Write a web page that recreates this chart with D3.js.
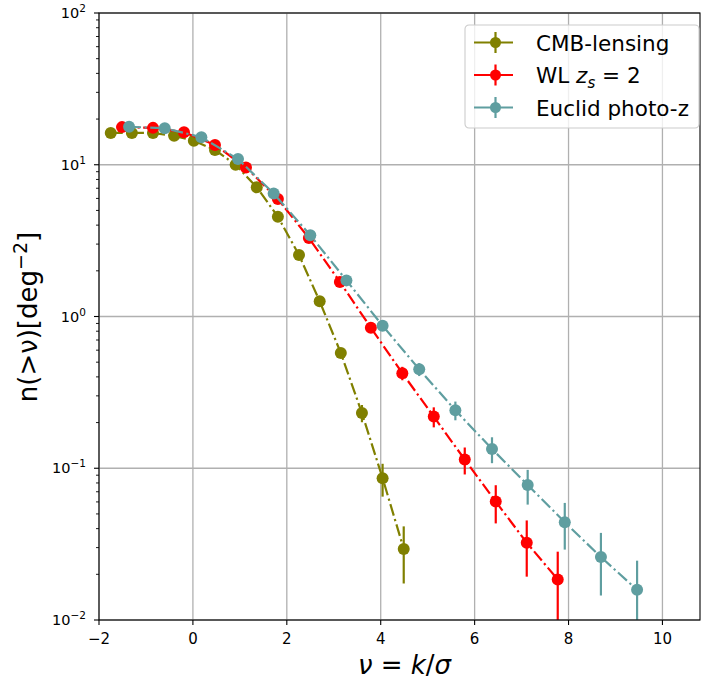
<!DOCTYPE html>
<html>
<head>
<meta charset="utf-8">
<script src="https://cdn.jsdelivr.net/npm/d3@7"></script>
<style>
  body { margin: 0; background: #fff; }
  text { font-family: "DejaVu Sans", sans-serif; }
</style>
</head>
<body>
<script>
// peak counts n(>nu) for three surveys
const nuCMB = [-1.75, -1.30, -0.85, -0.40, 0.02, 0.47, 0.91, 1.36, 1.81, 2.26, 2.70, 3.15, 3.60, 4.04, 4.49]
const nCMB = [16.2, 16.2, 16.2, 15.5, 14.4, 12.5, 10.0, 7.1, 4.55, 2.54, 1.26, 0.575, 0.231, 0.086, 0.0294]
const errCMB = [0.3, 0.3, 0.3, 0.3, 0.3, 0.3, 0.25, 0.2, 0.15, 0.1, 0.06, 0.035, 0.03, 0.021, 0.012]

const nuWL = [-1.51, -0.85, -0.19, 0.47, 1.13, 1.81, 2.47, 3.13, 3.79, 4.46, 5.13, 5.79, 6.45, 7.11, 7.77]
const nWL = [17.7, 17.5, 16.4, 13.5, 9.6, 5.94, 3.29, 1.69, 0.843, 0.423, 0.219, 0.114, 0.0603, 0.0323, 0.0185]
const errWL = [0.4, 0.4, 0.35, 0.3, 0.25, 0.2, 0.12, 0.07, 0.045, 0.043, 0.033, 0.023, 0.017, 0.013, 0.0097]

const nuEuclid = [-1.36, -0.60, 0.18, 0.96, 1.72, 2.50, 3.27, 4.04, 4.82, 5.59, 6.37, 7.13, 7.92, 8.69, 9.46]
const nEuclid = [17.8, 17.4, 15.2, 10.9, 6.47, 3.43, 1.73, 0.869, 0.449, 0.241, 0.134, 0.0776, 0.0441, 0.0260, 0.0158]
const errEuclid = [0.4, 0.4, 0.35, 0.3, 0.25, 0.15, 0.08, 0.05, 0.044, 0.034, 0.026, 0.02, 0.015, 0.0115, 0.0088]

const seriesNames = ['CMB-lensing', 'WL', 'Euclid photo-z']
const seriesColors = ['#808000', '#ff0000', '#5f9ea0']

const xTicks = [-2, 0, 2, 4, 6, 8, 10]
const yExponents = [-2, -1, 0, 1, 2]

const width = 701, height = 680
const margin = {top: 13, right: 1, bottom: 60, left: 99}

const svg = d3.select('body').append('svg')
  .attr('width', width)
  .attr('height', height)

const x = d3.scaleLinear().domain([-2, 10.8]).range([margin.left, width - margin.right])
const y = d3.scaleLog().domain([0.01, 100]).range([height - margin.bottom, margin.top])

const x0 = margin.left, x1 = width - margin.right
const y0 = height - margin.bottom, y1 = margin.top

svg.append('defs').append('clipPath').attr('id', 'plot')
  .append('rect').attr('x', x0).attr('y', y1).attr('width', x1 - x0).attr('height', y0 - y1)

// grid
const grid = svg.append('g').attr('stroke', '#b0b0b0').attr('stroke-width', 1.3)
xTicks.forEach(t => {
  grid.append('line').attr('x1', x(t)).attr('x2', x(t)).attr('y1', y0).attr('y2', y1)
})
yExponents.forEach(e => {
  grid.append('line').attr('x1', x0).attr('x2', x1).attr('y1', y(Math.pow(10, e))).attr('y2', y(Math.pow(10, e)))
})

// series
const all = [
  {nu: nuCMB, n: nCMB, err: errCMB},
  {nu: nuWL, n: nWL, err: errWL},
  {nu: nuEuclid, n: nEuclid, err: errEuclid}
]

const line = d3.line().x(d => x(d.nu)).y(d => y(d.n))
const plot = svg.append('g').attr('clip-path', 'url(#plot)')

all.forEach((s, i) => {
  let pts = s.nu.map((v, j) => ({nu: v, n: s.n[j], err: s.err[j]}))
  let g = plot.append('g')
  g.append('path')
    .attr('d', line(pts))
    .attr('fill', 'none')
    .attr('stroke', seriesColors[i])
    .attr('stroke-width', 2.2)
    .attr('stroke-dasharray', '12,3.5,2.2,3.5')
  g.selectAll('line.err').data(pts).enter().append('line')
    .attr('x1', d => x(d.nu)).attr('x2', d => x(d.nu))
    .attr('y1', d => y(d.n + d.err))
    .attr('y2', d => y(Math.max(d.n - d.err, 1e-4)))
    .attr('stroke', seriesColors[i])
    .attr('stroke-width', 2.2)
  g.selectAll('circle').data(pts).enter().append('circle')
    .attr('cx', d => x(d.nu)).attr('cy', d => y(d.n))
    .attr('r', 6)
    .attr('fill', seriesColors[i])
})

// axes frame
const axisColor = '#000'
svg.append('rect').attr('x', x0).attr('y', y1).attr('width', x1 - x0).attr('height', y0 - y1)
  .attr('fill', 'none').attr('stroke', axisColor).attr('stroke-width', 1.1)

// x ticks
const xt = svg.append('g')
xTicks.forEach(t => {
  xt.append('line').attr('x1', x(t)).attr('x2', x(t)).attr('y1', y0).attr('y2', y0 + 5)
    .attr('stroke', axisColor).attr('stroke-width', 1.1)
  xt.append('text').attr('x', x(t)).attr('y', 644)
    .attr('text-anchor', 'middle').attr('font-size', 15)
    .text(t < 0 ? '\u2212' + Math.abs(t) : t)
})

// y ticks (log)
const yt = svg.append('g')
yExponents.forEach(e => {
  let v = Math.pow(10, e)
  yt.append('line').attr('x1', x0 - 5).attr('x2', x0).attr('y1', y(v)).attr('y2', y(v))
    .attr('stroke', axisColor).attr('stroke-width', 1.1)
  let label = yt.append('text').attr('x', x0 - 13).attr('y', y(v) + 5)
    .attr('text-anchor', 'end').attr('font-size', 14.5)
  label.append('tspan').text('10')
  label.append('tspan').attr('dy', -6).attr('font-size', 10.5)
    .text(e < 0 ? '\u2212' + Math.abs(e) : e)
  if (e < 2) {
    for (let k = 2; k <= 9; k++) {
      yt.append('line').attr('x1', x0 - 3).attr('x2', x0).attr('y1', y(k * v)).attr('y2', y(k * v))
        .attr('stroke', axisColor).attr('stroke-width', 0.9)
    }
  }
})

// axis labels
const xl = svg.append('text').attr('x', (x0 + x1) / 2 + 5).attr('y', 674)
  .attr('text-anchor', 'middle').attr('font-size', 26)
xl.append('tspan').attr('font-style', 'italic').text('\u03bd')
xl.append('tspan').text(' = ')
xl.append('tspan').attr('font-style', 'italic').text('k')
xl.append('tspan').text('/')
xl.append('tspan').attr('font-style', 'italic').text('\u03c3')

const yl = svg.append('text')
  .attr('transform', 'translate(37,317) rotate(-90)')
  .attr('text-anchor', 'middle').attr('font-size', 26)
yl.append('tspan').text('n(>\u03bd)[deg')
yl.append('tspan').attr('dy', -10).attr('font-size', 19).text('\u22122')
yl.append('tspan').attr('dy', 10).text(']')

// legend
const lg = svg.append('g').attr('transform', 'translate(465,25)')
lg.append('rect').attr('width', 234).attr('height', 103).attr('rx', 4)
  .attr('fill', '#fff').attr('fill-opacity', 0.8)
  .attr('stroke', '#cccccc').attr('stroke-width', 1.1)

const rowY = [17.5, 50, 82.5]
seriesNames.forEach((name, i) => {
  let row = lg.append('g').attr('transform', `translate(0,${rowY[i]})`)
  row.append('line').attr('x1', 9).attr('x2', 48).attr('y1', 0).attr('y2', 0)
    .attr('stroke', seriesColors[i]).attr('stroke-width', 2.2)
  row.append('line').attr('x1', 30.5).attr('x2', 30.5).attr('y1', -10.5).attr('y2', 10.5)
    .attr('stroke', seriesColors[i]).attr('stroke-width', 2.2)
  row.append('circle').attr('cx', 30.5).attr('cy', 0).attr('r', 5.5).attr('fill', seriesColors[i])
  let t = row.append('text').attr('x', 71).attr('y', 8).attr('font-size', 21.5)
  if (i === 1) {
    t.append('tspan').text('WL ')
    t.append('tspan').attr('font-style', 'italic').text('z')
    t.append('tspan').attr('font-style', 'italic').attr('font-size', 15).attr('dy', 5).text('s')
    t.append('tspan').attr('dy', -5).text(' = 2')
  } else {
    t.text(name)
  }
})
</script>
</body>
</html>
